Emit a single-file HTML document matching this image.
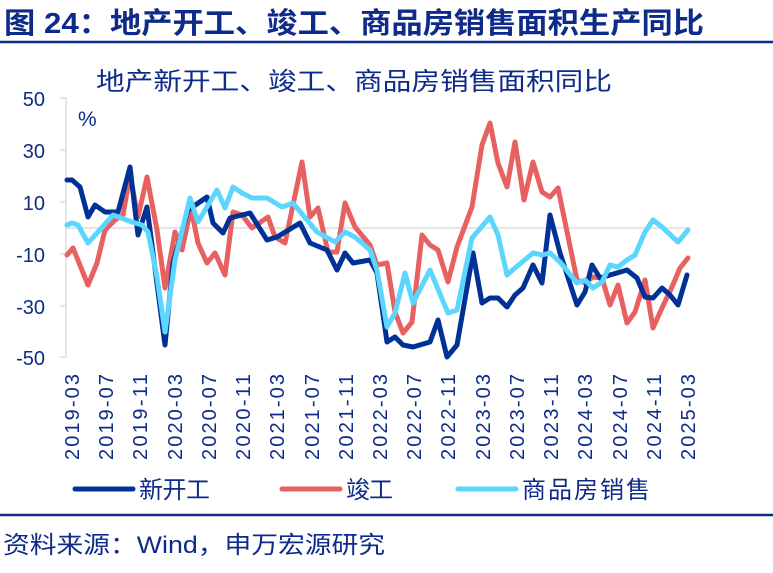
<!DOCTYPE html>
<html><head><meta charset="utf-8"><style>
body{margin:0;background:#fff;width:773px;height:568px;overflow:hidden;font-family:"Liberation Sans","Noto Sans CJK SC",sans-serif}
</style></head><body>
<svg width="773" height="568" xmlns="http://www.w3.org/2000/svg" font-family="Liberation Sans, Noto Sans CJK SC, sans-serif">
<text x="4" y="33" font-size="29" font-weight="bold" fill="#0e2b8a" textLength="700" lengthAdjust="spacingAndGlyphs">图 24：地产开工、竣工、商品房销售面积生产同比</text>
<line x1="0" y1="42" x2="773" y2="42" stroke="#0e2b8a" stroke-width="2.5"/>
<text x="96" y="90" font-size="25" fill="#0e2b8a" textLength="516" lengthAdjust="spacingAndGlyphs">地产新开工、竣工、商品房销售面积同比</text>
<text x="78" y="126" font-size="21" fill="#0e2b8a">%</text>
<g font-size="20" fill="#0e2b8a" text-anchor="end">
<text x="45" y="106">50</text><text x="45" y="158">30</text><text x="45" y="210">10</text>
<text x="45" y="262">-10</text><text x="45" y="314">-30</text><text x="45" y="365">-50</text>
</g>
<g stroke="#ddd" stroke-width="1.5" fill="none">
<line x1="66" y1="97" x2="66" y2="357"/>
<line x1="60" y1="98" x2="66" y2="98"/><line x1="60" y1="150" x2="66" y2="150"/><line x1="60" y1="202" x2="66" y2="202"/><line x1="60" y1="254" x2="66" y2="254"/><line x1="60" y1="306" x2="66" y2="306"/><line x1="60" y1="357" x2="66" y2="357"/>
<line x1="66" y1="228" x2="690" y2="228"/>
</g>
<g stroke-width="5" fill="none" stroke-linejoin="round" stroke-linecap="round">
<polyline stroke="#e86161" points="67,255 73,248 88,285 97,263 105,230 115,220 123,215 130,175 138,217 147,177 157,230 165,288 175,232 182,250 191,208 198,243 207,263 215,253 225,275 233,212 242,215 252,228 268,217 275,237 285,243 302,162 310,217 318,208 328,252 337,252 345,203 355,227 370,245 377,265 387,263 395,312 403,333 412,322 422,235 430,245 438,250 448,282 457,247 472,207 482,145 490,123 498,163 507,187 515,142 524,200 533,162 542,192 550,197 558,188 577,280 585,283 593,277 602,278 610,305 618,285 627,323 635,312 645,280 653,328 662,308 672,287 680,268 688,258"/>
<polyline stroke="#003196" points="67,180 72,180 80,187 88,217 95,205 105,212 118,212 130,167 138,235 147,207 165,345 173,263 188,210 207,197 213,223 223,233 230,218 250,213 267,240 277,237 300,223 310,243 327,250 337,270 345,253 353,263 370,260 377,273 387,342 395,337 403,345 413,347 430,342 438,320 447,357 457,345 473,253 482,303 490,298 498,298 507,307 515,295 523,288 533,265 542,283 550,215 560,253 577,305 585,292 592,265 600,278 610,275 627,270 637,278 645,297 653,298 662,288 670,295 678,305 687,275"/>
<polyline stroke="#5dd6fd" points="67,225 72,223 78,225 88,243 97,233 113,215 132,222 142,225 148,232 157,277 165,332 175,260 190,198 198,222 217,190 225,208 233,187 242,193 252,198 267,198 282,207 293,203 307,220 317,232 335,242 345,232 355,237 370,250 377,270 387,327 395,313 405,273 413,303 430,270 448,313 457,310 472,238 490,217 498,235 507,275 515,268 533,253 542,255 550,253 560,262 577,283 585,280 593,288 602,282 610,265 618,267 627,260 635,255 645,232 653,220 662,227 678,242 688,230"/>
</g>
<g font-size="20" fill="#0e2b8a" text-anchor="end">
<text transform="translate(79,374) rotate(-90)" textLength="86">2019-03</text>
<text transform="translate(113,374) rotate(-90)" textLength="86">2019-07</text>
<text transform="translate(147,374) rotate(-90)" textLength="86">2019-11</text>
<text transform="translate(182,374) rotate(-90)" textLength="86">2020-03</text>
<text transform="translate(216,374) rotate(-90)" textLength="86">2020-07</text>
<text transform="translate(250,374) rotate(-90)" textLength="86">2020-11</text>
<text transform="translate(284,374) rotate(-90)" textLength="86">2021-03</text>
<text transform="translate(319,374) rotate(-90)" textLength="86">2021-07</text>
<text transform="translate(353,374) rotate(-90)" textLength="86">2021-11</text>
<text transform="translate(387,374) rotate(-90)" textLength="86">2022-03</text>
<text transform="translate(421,374) rotate(-90)" textLength="86">2022-07</text>
<text transform="translate(455,374) rotate(-90)" textLength="86">2022-11</text>
<text transform="translate(490,374) rotate(-90)" textLength="86">2023-03</text>
<text transform="translate(524,374) rotate(-90)" textLength="86">2023-07</text>
<text transform="translate(558,374) rotate(-90)" textLength="86">2023-11</text>
<text transform="translate(592,374) rotate(-90)" textLength="86">2024-03</text>
<text transform="translate(627,374) rotate(-90)" textLength="86">2024-07</text>
<text transform="translate(661,374) rotate(-90)" textLength="86">2024-11</text>
<text transform="translate(695,374) rotate(-90)" textLength="86">2025-03</text>
</g>
<g stroke-width="5" stroke-linecap="round">
<line x1="75" y1="489" x2="133" y2="489" stroke="#003196"/>
<line x1="282" y1="489" x2="340" y2="489" stroke="#e86161"/>
<line x1="458" y1="489" x2="516" y2="489" stroke="#5dd6fd"/>
</g>
<g font-size="24" fill="#0e2b8a">
<text x="139" y="498" textLength="71">新开工</text><text x="346" y="498" textLength="47">竣工</text><text x="522" y="498" textLength="128">商品房销售</text>
</g>
<line x1="0" y1="515" x2="773" y2="515" stroke="#0e2b8a" stroke-width="2.5"/>
<text x="3" y="553" font-size="24" fill="#0e2b8a" textLength="382" lengthAdjust="spacingAndGlyphs">资料来源：Wind，申万宏源研究</text>
</svg>
</body></html>
